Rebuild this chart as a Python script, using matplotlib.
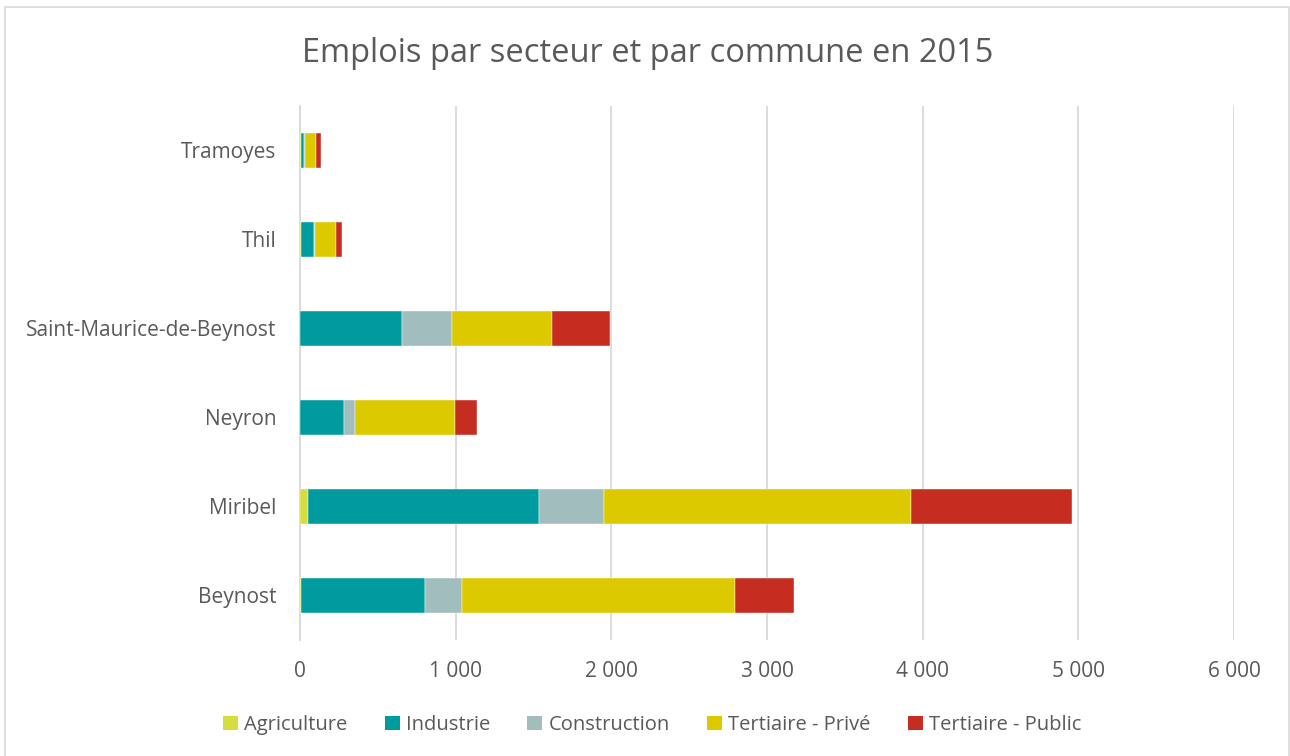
import matplotlib
matplotlib.use("Agg")
import matplotlib.pyplot as plt
from matplotlib.patches import Patch, Rectangle
import numpy as np

communes = ["Beynost", "Miribel", "Neyron", "Saint-Maurice-de-Beynost", "Thil", "Tramoyes"]
agriculture = [5, 50, 3, 3, 5, 8]
industrie = [800, 1487, 280, 654, 85, 15]
construction = [235, 416, 69, 322, 9, 8]
tertiaire_prive = [1755, 1973, 642, 638, 131, 69]
tertiaire_public = [380, 1036, 141, 375, 37, 36]

series = [
    ("Agriculture", agriculture, "#D7DD3F"),
    ("Industrie", industrie, "#009B9E"),
    ("Construction", construction, "#A1BDBE"),
    ("Tertiaire - Privé", tertiaire_prive, "#DCC900"),
    ("Tertiaire - Public", tertiaire_public, "#C42D1F"),
]
xticks = [0, 1000, 2000, 3000, 4000, 5000, 6000]

plt.rcParams['font.family'] = ['Open Sans', 'DejaVu Sans']
txt = "#595959"
grid = "#D9D9D9"

fig = plt.figure(figsize=(12.9, 7.56), dpi=100)
fig.patches.append(Rectangle((5/1290, -0.01), 1284/1290, 1 - 7/756 + 0.01,
                             transform=fig.transFigure, fill=False,
                             edgecolor=grid, linewidth=1.2))
ax = fig.add_axes([300/1290, 1 - 640/756, 934/1290, 534/756])

y = np.arange(len(communes))
left = np.zeros(len(communes))
for name, vals, col in series:
    v = np.array(vals, dtype=float)
    ax.barh(y, v, left=left, height=0.4, color=col, label=name,
            edgecolor="white", linewidth=0.3, zorder=3)
    left += v

ax.set_xlim(0, 6000)
ax.set_ylim(-0.5, len(communes) - 0.5)
ax.set_xticks(xticks)
ax.set_xticklabels([f"{t:,}".replace(",", " ") for t in xticks])
ax.set_yticks(y)
ax.set_yticklabels(communes)
ax.tick_params(axis="both", length=0, labelsize=15, colors=txt)
ax.tick_params(axis="x", pad=15)
ax.tick_params(axis="y", pad=17)
for s in ["top", "right", "bottom"]:
    ax.spines[s].set_visible(False)
ax.spines["left"].set_color(grid)
ax.spines["left"].set_linewidth(1.3)
ax.xaxis.grid(True, color=grid, linewidth=1.3, zorder=0)
ax.set_axisbelow(True)

fig.text(0.5 * (303 + 992) / 1290, 1 - 53 / 756, "Emplois par secteur et par commune en 2015",
         ha="center", va="center", fontsize=23.5, color=txt)

handles = [Patch(facecolor=c, edgecolor="none") for _, _, c in series]
labels = [n for n, _, _ in series]
leg = fig.legend(handles, labels, loc="center", bbox_to_anchor=(652/1290, 1 - 725/756),
                 ncol=5, frameon=False, fontsize=14.5, handlelength=0.75, handleheight=0.75,
                 handletextpad=0.3, columnspacing=1.85, labelcolor=txt)

fig.savefig("out.png", dpi=100)
